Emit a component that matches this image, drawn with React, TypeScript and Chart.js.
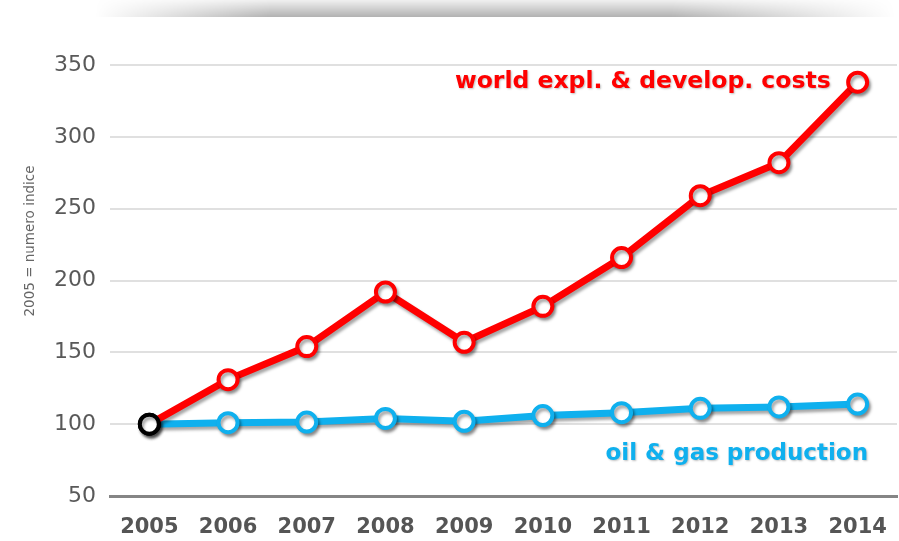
import React, { useEffect, useRef } from "react";
import { Chart, registerables } from "chart.js";

Chart.register(...registerables);

const years = ["2005", "2006", "2007", "2008", "2009", "2010", "2011", "2012", "2013", "2014"];
const costs = [100, 131, 154, 192, 157, 182, 216, 259, 282, 338];
const production = [100, 101, 101.5, 104, 102, 106, 108, 111, 112, 114];
const costsLabel = "world expl. & develop. costs";
const productionLabel = "oil & gas production";
const yTitle = "2005 = numero indice";

const RED = "#ff0000";
const BLUE = "#0fb0ee";

const shadowPlugin = {
  id: "lineShadow",
  beforeDatasetDraw(chart: any) {
    const ctx = chart.ctx;
    ctx.save();
    ctx.shadowColor = "rgba(0,0,0,0.35)";
    ctx.shadowBlur = 3;
    ctx.shadowOffsetX = 2;
    ctx.shadowOffsetY = 3;
  },
  afterDatasetDraw(chart: any) {
    chart.ctx.restore();
  },
};

const textPlugin = {
  id: "annotText",
  afterDraw(chart: any) {
    const ctx = chart.ctx;
    const x = chart.scales.x;
    const y = chart.scales.y;
    ctx.save();
    ctx.save();
    ctx.translate(30, 241);
    ctx.rotate(-Math.PI / 2);
    ctx.font = "13.5px 'DejaVu Sans'";
    ctx.fillStyle = "#666";
    ctx.textAlign = "center";
    ctx.textBaseline = "middle";
    ctx.fillText(yTitle, 0, 0);
    ctx.restore();

    ctx.shadowColor = "rgba(0,0,0,0.25)";
    ctx.shadowBlur = 2;
    ctx.shadowOffsetX = 1;
    ctx.shadowOffsetY = 1;
    ctx.textAlign = "right";
    ctx.textBaseline = "middle";
    ctx.font = "bold 23.5px 'DejaVu Sans'";
    ctx.fillStyle = RED;
    ctx.fillText(costsLabel, x.getPixelForValue(9) - 27, y.getPixelForValue(338));
    ctx.font = "bold 23px 'DejaVu Sans'";
    ctx.fillStyle = BLUE;
    ctx.fillText(productionLabel, chart.chartArea.right - 29, y.getPixelForValue(79));
    ctx.restore();
  },
};

export default function App() {
  const ref = useRef<HTMLCanvasElement>(null);
  useEffect(() => {
    if (!ref.current) return;
    const pointBorders = (c: string) => years.map((_, i) => (i === 0 ? "#000" : c));
    const chart = new Chart(ref.current, {
      type: "line",
      data: {
        labels: years,
        datasets: [
          {
            label: productionLabel,
            data: production,
            borderColor: BLUE,
            borderWidth: 7,
            pointRadius: 9.5,
            pointBorderWidth: 4,
            pointBackgroundColor: "#fff",
            pointBorderColor: pointBorders(BLUE),
            order: 2,
          },
          {
            label: costsLabel,
            data: costs,
            borderColor: RED,
            borderWidth: 7,
            pointRadius: 9.5,
            pointBorderWidth: 4,
            pointBackgroundColor: "#fff",
            pointBorderColor: pointBorders(RED),
            order: 1,
          },
        ],
      },
      options: {
        responsive: false,
        animation: false,
        devicePixelRatio: 1,
        layout: { autoPadding: false, padding: { top: 65, right: 2, left: 0, bottom: 0 } },
        plugins: { legend: { display: false }, tooltip: { enabled: false } },
        scales: {
          x: {
            offset: true,
            grid: { display: false },
            border: { display: true, color: "#858585", width: 3 },
            ticks: {
              padding: 11,
              color: "#555",
              maxRotation: 0,
              font: { family: "'DejaVu Sans'", size: 21, weight: "bold" },
            },
            afterFit: (s: any) => {
              s.height = 45;
              s.paddingLeft = 0;
              s.paddingRight = 0;
            },
          },
          y: {
            min: 50,
            max: 350,
            grid: { color: "#e0e0e0", lineWidth: 2, drawTicks: false },
            border: { display: false },
            ticks: {
              stepSize: 50,
              padding: 14,
              color: "#595959",
              font: { family: "'DejaVu Sans'", size: 22 },
            },
            afterFit: (s: any) => {
              s.width = 110;
            },
          },
        },
      },
      plugins: [shadowPlugin, textPlugin],
    } as any);
    return () => chart.destroy();
  }, []);
  const mask = "linear-gradient(to right, transparent 0%, black 22%, black 72%, transparent 100%)";
  return (
    <div style={{ position: "fixed", left: 0, top: 0, width: 899, height: 541, background: "#fff", overflow: "hidden" }}>
      <div
        style={{
          position: "absolute",
          left: 95,
          top: 0,
          width: 800,
          height: 17,
          background: "linear-gradient(to bottom, rgba(0,0,0,0.06), rgba(0,0,0,0.3))",
          WebkitMaskImage: mask,
          maskImage: mask,
        }}
      />
      <canvas ref={ref} width={899} height={541} style={{ position: "absolute", left: 0, top: 0 }} />
    </div>
  );
}
